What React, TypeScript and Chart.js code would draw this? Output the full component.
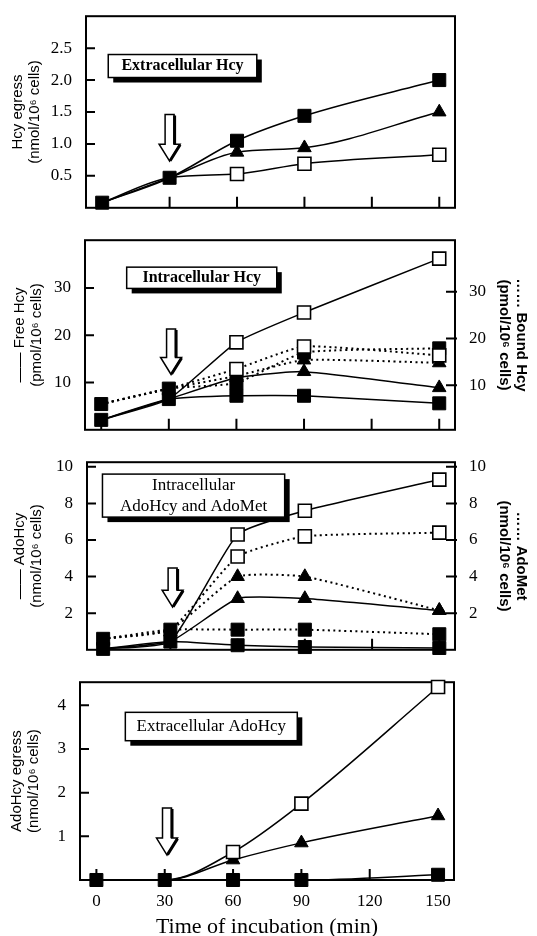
import React, { useEffect, useRef } from "react";
import { Chart, registerables } from "chart.js";

Chart.register(...registerables);

// ---------------- data ----------------
const TIMES = [0, 30, 60, 90, 150];
const X_TICKS = [0, 30, 60, 90, 120, 150];
const X_TITLE = "Time of incubation (min)";

// Panel 1 – Extracellular Hcy
const P1_LABEL = ["Extracellular Hcy"];
const P1_Y_TITLE = ["Hcy egress", "(nmol/10⁶ cells)"];
const P1_Y_TICKS = [0.5, 1.0, 1.5, 2.0, 2.5];
const P1_FILLED_SQ = [0.08, 0.47, 1.05, 1.44, 2.0];
const P1_TRIANGLE = [0.08, 0.47, 0.87, 0.94, 1.5];
const P1_OPEN_SQ = [0.08, 0.47, 0.53, 0.69, 0.83];

// Panel 2 – Intracellular Hcy (free = solid, left; bound = dotted, right)
const P2_LABEL = ["Intracellular Hcy"];
const P2_Y_TITLE = ["—— Free Hcy", "(pmol/10⁶ cells)"];
const P2_Y1_TITLE = ["…… Bound Hcy", "(pmol/10⁶ cells)"];
const P2_Y_TICKS = [10, 20, 30];
const P2_FREE_FILLED_SQ = [2.1, 6.5, 7.2, 7.2, 5.6];
const P2_FREE_TRIANGLE = [2.1, 6.5, 11.0, 12.3, 8.9];
const P2_FREE_OPEN_SQ = [2.1, 6.5, 18.5, 24.8, 36.2];
const P2_BOUND_FILLED_SQ = [6.0, 9.3, 10.5, 17.0, 17.9];
const P2_BOUND_TRIANGLE = [6.0, 9.3, 12.0, 15.4, 14.8];
const P2_BOUND_OPEN_SQ = [6.0, 9.3, 13.5, 18.3, 16.4];

// Panel 3 – Intracellular AdoHcy (solid, left) and AdoMet (dotted, right)
const P3_LABEL = ["Intracellular", "AdoHcy and AdoMet"];
const P3_Y_TITLE = ["—— AdoHcy", "(nmol/10⁶ cells)"];
const P3_Y1_TITLE = ["…… AdoMet", "(nmol/10⁶ cells)"];
const P3_Y_TICKS = [2, 4, 6, 8, 10];
const P3_ADOHCY_FILLED_SQ = [0.05, 0.45, 0.25, 0.15, 0.1];
const P3_ADOHCY_TRIANGLE = [0.05, 0.45, 2.8, 2.8, 2.15];
const P3_ADOHCY_OPEN_SQ = [0.05, 0.45, 6.3, 7.6, 9.3];
const P3_ADOMET_FILLED_SQ = [0.6, 1.1, 1.1, 1.1, 0.85];
const P3_ADOMET_TRIANGLE = [0.6, 1.1, 4.0, 4.0, 2.15];
const P3_ADOMET_OPEN_SQ = [0.6, 1.1, 5.1, 6.2, 6.4];

// Panel 4 – Extracellular AdoHcy
const P4_LABEL = ["Extracellular AdoHcy"];
const P4_Y_TITLE = ["AdoHcy egress", "(nmol/10⁶ cells)"];
const P4_Y_TICKS = [1, 2, 3, 4];
const P4_FILLED_SQ = [0, 0, 0, 0, 0.12];
const P4_TRIANGLE = [0, 0, 0.46, 0.85, 1.47];
const P4_OPEN_SQ = [0, 0, 0.64, 1.75, 4.42];

// ---------------- styling helpers ----------------
const SERIF = "'Liberation Serif', 'Times New Roman', serif";
const SANS = "'Liberation Sans', Arial, sans-serif";
const W = 537;

type Marker = "filled" | "triangle" | "open";

function series(values: number[], marker: Marker, dotted: boolean, axis = "y") {
  const r = marker === "triangle" ? 7.8 : 9.2;
  return {
    data: TIMES.map((t, i) => ({ x: t, y: values[i] })),
    yAxisID: axis,
    borderColor: "#000",
    borderWidth: dotted ? 2 : 1.5,
    borderDash: dotted ? [2, 3.5] : [],
    pointStyle: marker === "triangle" ? "triangle" : "rect",
    // before treatment (0 and 30 min) all groups coincide; only the filled marker shows
    pointRadius: TIMES.map((t) => (marker !== "filled" && t <= 30 ? 0 : r)),
    pointHoverRadius: 0,
    pointBackgroundColor: marker === "open" ? "#fff" : "#000",
    pointBorderColor: "#000",
    pointBorderWidth: marker === "open" ? 1.6 : 1,
    fill: false,
    clip: false,
  };
}

function drawArrow(ctx: CanvasRenderingContext2D, cx: number, top: number, tip: number) {
  const hs = tip - 17;
  ctx.beginPath();
  ctx.moveTo(cx - 4.5, top);
  ctx.lineTo(cx + 4.5, top);
  ctx.lineTo(cx + 4.5, hs);
  ctx.lineTo(cx + 10.5, hs);
  ctx.lineTo(cx, tip);
  ctx.lineTo(cx - 10.5, hs);
  ctx.lineTo(cx - 4.5, hs);
  ctx.closePath();
  ctx.fillStyle = "#fff";
  ctx.fill();
  ctx.lineWidth = 1.5;
  ctx.strokeStyle = "#000";
  ctx.lineJoin = "miter";
  ctx.stroke();
  ctx.lineWidth = 3;
  ctx.beginPath();
  ctx.moveTo(cx + 5, top + 1);
  ctx.lineTo(cx + 5, hs);
  ctx.moveTo(cx + 10.5, hs + 0.5);
  ctx.lineTo(cx + 0.5, tip - 0.5);
  ctx.stroke();
}

const decorPlugin = {
  id: "decor",
  beforeDatasetsDraw(chart: any, _args: any, opts: any) {
    const { ctx, chartArea: a, scales } = chart;
    ctx.save();
    ctx.strokeStyle = "#000";
    ctx.lineWidth = 2;
    ctx.beginPath();
    X_TICKS.forEach((v) => {
      const px = scales.x.getPixelForValue(v);
      ctx.moveTo(px, a.bottom);
      ctx.lineTo(px, a.bottom - 11);
    });
    (opts.yTicks || []).forEach((v: number) => {
      const py = scales.y.getPixelForValue(v);
      ctx.moveTo(a.left, py);
      ctx.lineTo(a.left + 9, py);
    });
    if (scales.y1) {
      (opts.yTicks || []).forEach((v: number) => {
        const py = scales.y1.getPixelForValue(v);
        ctx.moveTo(a.right + 2, py);
        ctx.lineTo(a.right - 9, py);
      });
    }
    ctx.stroke();
    ctx.lineWidth = 2;
    ctx.strokeRect(a.left, a.top, a.right - a.left, a.bottom - a.top);
    ctx.restore();
  },
  afterDatasetsDraw(chart: any, _args: any, opts: any) {
    const { ctx, scales } = chart;
    ctx.save();
    if (opts.arrow) {
      const { x, top, tip } = opts.arrow;
      drawArrow(ctx, scales.x.getPixelForValue(x), scales.y.getPixelForValue(top), scales.y.getPixelForValue(tip));
    }
    if (opts.box) {
      const b = opts.box;
      const x0 = scales.x.getPixelForValue(b.x0);
      const x1 = scales.x.getPixelForValue(b.x1);
      const y0 = scales.y.getPixelForValue(b.y0);
      const y1 = scales.y.getPixelForValue(b.y1);
      ctx.fillStyle = "#000";
      ctx.fillRect(x0 + 5, y0 + 5, x1 - x0, y1 - y0);
      ctx.fillStyle = "#fff";
      ctx.fillRect(x0, y0, x1 - x0, y1 - y0);
      ctx.lineWidth = 1.5;
      ctx.strokeStyle = "#000";
      ctx.strokeRect(x0, y0, x1 - x0, y1 - y0);
      ctx.fillStyle = "#000";
      ctx.font = b.font;
      ctx.textAlign = "center";
      ctx.textBaseline = "middle";
      const n = b.lines.length;
      const cx = (x0 + x1) / 2;
      const cy = (y0 + y1) / 2;
      b.lines.forEach((s: string, i: number) => {
        ctx.fillText(s, cx, cy + (i - (n - 1) / 2) * b.lineGap);
      });
    }
    ctx.restore();
  },
};

type PanelSpec = {
  top: number;
  height: number;
  boxLeft: number;
  boxRight: number;
  boxTop: number;
  boxBottom: number;
  yMin: number;
  yMax: number;
  y1Min?: number;
  y1Max?: number;
  yTicks: number[];
  yFormat: (v: number) => string;
  yTitle: string[];
  yTitlePad: number;
  y1Title?: string[];
  datasets: any[];
  showX: boolean;
  box: any;
  arrow: any;
  curve: any;
};

const tickFont = { family: SERIF, size: 17 };

function buildConfig(p: PanelSpec): any {
  const scales: any = {
    x: {
      type: "linear",
      min: -7.2,
      max: 157,
      grid: { display: false },
      border: { display: false },
      afterBuildTicks: (s: any) => {
        s.ticks = X_TICKS.map((v) => ({ value: v }));
      },
      afterFit: (s: any) => {
        s.height = p.top + p.height - p.boxBottom;
      },
      ticks: {
        display: p.showX,
        color: "#000",
        font: tickFont,
        padding: 3,
        maxRotation: 0,
        autoSkip: false,
        callback: (v: any) => String(v),
      },
      title: {
        display: p.showX,
        text: X_TITLE,
        color: "#000",
        font: { family: SERIF, size: 22, lineHeight: 0.8 },
        padding: { top: 0, bottom: 0 },
      },
    },
    y: {
      type: "linear",
      position: "left",
      min: p.yMin,
      max: p.yMax,
      grid: { display: false },
      border: { display: false },
      afterBuildTicks: (s: any) => {
        s.ticks = p.yTicks.map((v) => ({ value: v }));
      },
      afterFit: (s: any) => {
        s.width = p.boxLeft;
      },
      ticks: { color: "#000", font: tickFont, padding: 6, callback: (v: any) => p.yFormat(Number(v)) },
      title: {
        display: true,
        text: p.yTitle,
        color: "#000",
        font: { family: SANS, size: 15, lineHeight: 1.1 },
        padding: { top: p.yTitlePad, bottom: 0 },
      },
    },
  };
  if (p.y1Title) {
    scales.y1 = {
      type: "linear",
      position: "right",
      min: p.y1Min,
      max: p.y1Max,
      grid: { display: false },
      border: { display: false },
      afterBuildTicks: (s: any) => {
        s.ticks = p.yTicks.map((v) => ({ value: v }));
      },
      afterFit: (s: any) => {
        s.width = W - p.boxRight;
      },
      ticks: { color: "#000", font: tickFont, padding: 6, callback: (v: any) => p.yFormat(Number(v)) },
      title: {
        display: true,
        text: p.y1Title,
        color: "#000",
        font: { family: SANS, size: 15, weight: "bold", lineHeight: 1.1 },
        padding: { top: 8, bottom: 0 },
      },
    };
  }
  return {
    type: "line",
    data: { datasets: p.datasets.map((d) => ({ ...d, ...p.curve })) },
    plugins: [decorPlugin],
    options: {
      animation: false,
      responsive: false,
      maintainAspectRatio: false,
      layout: {
        padding: {
          top: p.boxTop - p.top,
          left: 0,
          right: p.y1Title ? 0 : W - p.boxRight,
          bottom: 0,
        },
      },
      events: [],
      plugins: {
        legend: { display: false },
        tooltip: { enabled: false },
        decor: { box: p.box, arrow: p.arrow, yTicks: p.yTicks },
      },
      scales,
    },
  };
}

const BOX_FONT_BOLD = `bold 16px ${SERIF}`;
const BOX_FONT = `17px ${SERIF}`;
const MONO = { cubicInterpolationMode: "monotone" };
const SOFT = { cubicInterpolationMode: "default", tension: 0.15 };

const PANELS: PanelSpec[] = [
  {
    top: 0,
    height: 224,
    boxLeft: 86,
    boxRight: 455,
    boxTop: 11,
    boxBottom: 218,
    yMin: 0,
    yMax: 3.0,
    yTicks: P1_Y_TICKS,
    yFormat: (v) => v.toFixed(1),
    yTitle: P1_Y_TITLE,
    yTitlePad: 10,
    showX: false,
    curve: MONO,
    datasets: [
      series(P1_OPEN_SQ, "open", false),
      series(P1_FILLED_SQ, "filled", false),
      series(P1_TRIANGLE, "triangle", false),
    ],
    box: { x0: 2.7, x1: 68.8, y0: 2.4, y1: 2.04, lines: P1_LABEL, font: BOX_FONT_BOLD, lineGap: 20 },
    arrow: { x: 30, top: 1.46, tip: 0.73 },
  },
  {
    top: 224,
    height: 222,
    boxLeft: 85,
    boxRight: 455,
    boxTop: 230,
    boxBottom: 438,
    yMin: 0,
    yMax: 40.1,
    y1Min: 0.5,
    y1Max: 41,
    yTicks: P2_Y_TICKS,
    yFormat: (v) => String(v),
    yTitle: P2_Y_TITLE,
    yTitlePad: 12,
    y1Title: P2_Y1_TITLE,
    showX: false,
    curve: SOFT,
    datasets: [
      series(P2_FREE_OPEN_SQ, "open", false),
      series(P2_BOUND_OPEN_SQ, "open", true, "y1"),
      series(P2_FREE_FILLED_SQ, "filled", false),
      series(P2_BOUND_FILLED_SQ, "filled", true, "y1"),
      series(P2_FREE_TRIANGLE, "triangle", false),
      series(P2_BOUND_TRIANGLE, "triangle", true, "y1"),
    ],
    box: { x0: 11.3, x1: 77.9, y0: 34.4, y1: 29.9, lines: P2_LABEL, font: BOX_FONT_BOLD, lineGap: 20 },
    arrow: { x: 31, top: 21.3, tip: 11.7 },
  },
  {
    top: 446,
    height: 220,
    boxLeft: 87,
    boxRight: 455,
    boxTop: 453,
    boxBottom: 658,
    yMin: 0,
    yMax: 10.25,
    y1Min: 0,
    y1Max: 10.25,
    yTicks: P3_Y_TICKS,
    yFormat: (v) => String(v),
    yTitle: P3_Y_TITLE,
    yTitlePad: 12,
    y1Title: P3_Y1_TITLE,
    showX: false,
    curve: SOFT,
    datasets: [
      series(P3_ADOHCY_OPEN_SQ, "open", false),
      series(P3_ADOMET_OPEN_SQ, "open", true, "y1"),
      series(P3_ADOHCY_FILLED_SQ, "filled", false),
      series(P3_ADOMET_FILLED_SQ, "filled", true, "y1"),
      series(P3_ADOHCY_TRIANGLE, "triangle", false),
      series(P3_ADOMET_TRIANGLE, "triangle", true, "y1"),
    ],
    box: { x0: -0.3, x1: 81, y0: 9.6, y1: 7.25, lines: P3_LABEL, font: BOX_FONT, lineGap: 21 },
    arrow: { x: 31, top: 4.47, tip: 2.33 },
  },
  {
    top: 666,
    height: 270,
    boxLeft: 80,
    boxRight: 454,
    boxTop: 670,
    boxBottom: 880,
    yMin: 0,
    yMax: 4.53,
    yTicks: P4_Y_TICKS,
    yFormat: (v) => String(v),
    yTitle: P4_Y_TITLE,
    yTitlePad: 9,
    showX: true,
    curve: MONO,
    datasets: [
      series(P4_FILLED_SQ, "filled", false),
      series(P4_OPEN_SQ, "open", false),
      series(P4_TRIANGLE, "triangle", false),
    ],
    box: { x0: 12.7, x1: 88.2, y0: 3.84, y1: 3.19, lines: P4_LABEL, font: BOX_FONT, lineGap: 20 },
    arrow: { x: 31, top: 1.65, tip: 0.57 },
  },
];

function Panel({ spec }: { spec: PanelSpec }) {
  const ref = useRef<HTMLCanvasElement>(null);
  useEffect(() => {
    if (!ref.current) return;
    const chart = new Chart(ref.current, buildConfig(spec));
    return () => chart.destroy();
  }, [spec]);
  return (
    <canvas
      ref={ref}
      width={W}
      height={spec.height}
      style={{ position: "absolute", left: 0, top: spec.top, width: W, height: spec.height }}
    />
  );
}

export default function App() {
  return (
    <div
      style={{
        position: "absolute",
        left: 0,
        top: 0,
        width: W,
        height: 936,
        overflow: "hidden",
        background: "#fff",
      }}
    >
      {PANELS.map((p, i) => (
        <Panel key={i} spec={p} />
      ))}
    </div>
  );
}
